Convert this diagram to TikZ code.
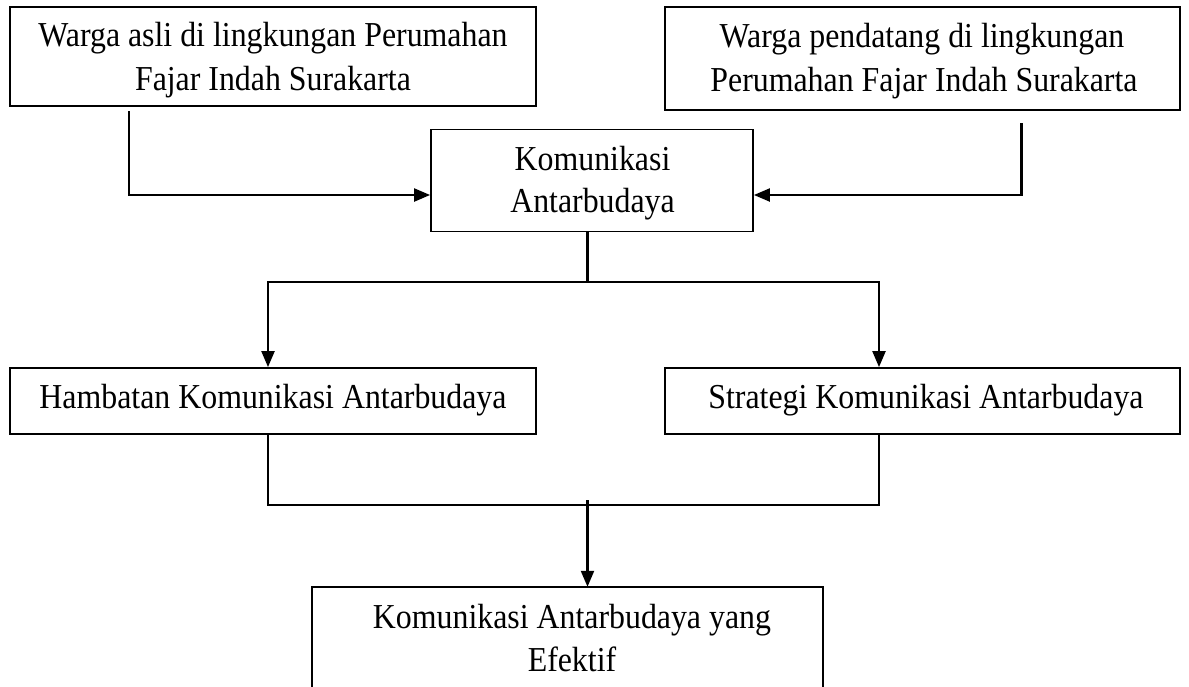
\documentclass[tikz,border=0pt]{standalone}
\usepackage{fontspec}
\setmainfont{Liberation Serif}[FakeStretch=0.91]
\usetikzlibrary{arrows.meta,calc}
\begin{document}
\begin{tikzpicture}[x=1pt,y=-1pt,
  box/.style={draw,line width=1.8pt,inner sep=0pt},
  txt/.style={inner sep=0pt,anchor=base,font=\fontsize{35}{43}\selectfont},
  conn/.style={line width=2.2pt},
  arr/.style={conn,-{Triangle[length=16pt,width=13pt]}}]
\useasboundingbox (0,0) rectangle (1189,686);
% boxes
\node[box,minimum width=526pt,minimum height=99pt] (b1) at (273,56.5) {};
\node[box,minimum width=515pt,minimum height=103pt] (b2) at (922.5,58.5) {};
\node[box,minimum width=322pt,minimum height=102pt] (kom) at (592,180.5) {};
\node[box,minimum width=526pt,minimum height=66pt] (ham) at (273,401) {};
\node[box,minimum width=515pt,minimum height=66pt] (str) at (922.5,401) {};
\node[inner sep=0pt,minimum width=511pt,minimum height=114pt] (eff) at (567.5,644) {};
\draw[line width=1.8pt] (eff.south west) -- (eff.north west) -- (eff.north east) -- (eff.south east);
% texts
\node[txt] (b1a) at (273,46) {Warga asli di lingkungan Perumahan};
\node[txt] (b1b) at (273,90) {Fajar Indah Surakarta};
\node[txt] (b2a) at (922,47) {Warga pendatang di lingkungan};
\node[txt] (b2b) at (924,91) {Perumahan Fajar Indah Surakarta};
\node[txt] (koma) at (592.5,170) {Komunikasi};
\node[txt] (komb) at (592.5,212) {Antarbudaya};
\node[txt] (hama) at (273,408) {Hambatan Komunikasi Antarbudaya};
\node[txt] (stra) at (926,408) {Strategi Komunikasi Antarbudaya};
\node[txt] (effa) at (572,628) {Komunikasi Antarbudaya yang};
\node[txt] (effb) at (572,671) {Efektif};
% connectors
\coordinate (s1) at (129,111);
\coordinate (s2) at (1021.5,123);
\draw[arr] (s1) |- ([yshift=-14.5pt]kom.west);
\draw[arr] (s2) |- ([yshift=-14.5pt]kom.east);
\coordinate (j1) at (587.5,282);
\draw[conn] (kom.south -| j1) -- (j1);
\draw[arr] (j1) -| ([xshift=-5pt]ham.north);
\draw[arr] (j1) -| ([xshift=-43.5pt]str.north);
\coordinate (j2) at (587.5,505);
\draw[conn] ([xshift=-5pt]ham.south) |- (j2) -| ([xshift=-43.5pt]str.south);
\coordinate (j3) at (587.5,500);
\draw[arr] (j3) -- (eff.north -| j3);
\end{tikzpicture}
\end{document}
